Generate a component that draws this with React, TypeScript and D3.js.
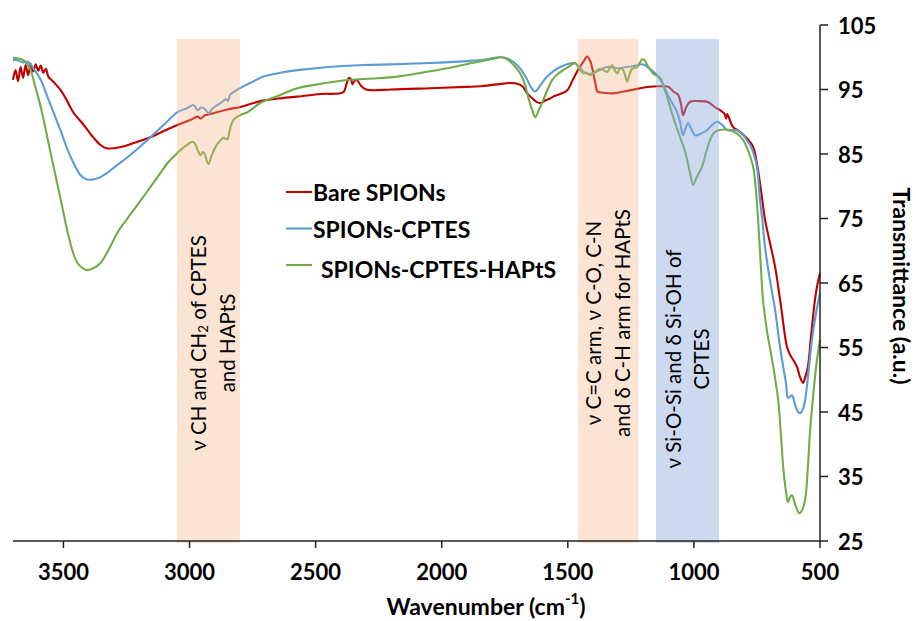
import React from "react";
import * as d3 from "d3";

// Bare SPIONs
const bareWn = [3700, 3690, 3680, 3670, 3660, 3650, 3640, 3630, 3620, 3610, 3600, 3590, 3580, 3570, 3560, 3540, 3511, 3485, 3460, 3430, 3404, 3380, 3353, 3330, 3300, 3260, 3222, 3155, 3100, 3048, 2990, 2968, 2955, 2940, 2929, 2900, 2850, 2798, 2719, 2650, 2572, 2480, 2390, 2378, 2368, 2360, 2354, 2348, 2338, 2320, 2300, 2200, 2045, 1900, 1847, 1780, 1728, 1700, 1680, 1661, 1640, 1620, 1605, 1590, 1570, 1558, 1530, 1502, 1480, 1463, 1440, 1423, 1410, 1399, 1390, 1383, 1360, 1320, 1250, 1185, 1122, 1100, 1082, 1063, 1050, 1043, 1030, 1015, 980, 948, 910, 896, 880, 872, 868, 845, 820, 791, 765, 750, 738, 728, 718, 700, 678, 655, 631, 620, 605, 591, 580, 567, 558, 548, 535, 520, 510, 500];
const bareT = [96.5, 98.0, 96.3, 98.5, 96.8, 98.8, 97.2, 99.0, 97.8, 98.9, 97.9, 98.7, 97.6, 98.2, 97.0, 96.2, 94.9, 93.2, 91.4, 90.0, 88.7, 87.5, 86.4, 85.9, 85.9, 86.2, 86.7, 87.6, 88.6, 89.5, 90.4, 90.8, 90.5, 91.0, 91.1, 91.4, 91.9, 92.3, 93.2, 93.6, 93.9, 94.3, 94.6, 95.8, 96.8, 96.6, 95.8, 96.2, 96.5, 95.6, 95.0, 95.0, 95.2, 95.4, 95.5, 95.8, 96.0, 95.9, 95.5, 94.4, 93.6, 93.0, 92.9, 93.3, 93.6, 93.9, 94.3, 94.9, 96.5, 97.8, 99.2, 100.1, 99.3, 97.5, 95.8, 94.7, 94.5, 94.4, 94.9, 95.4, 95.5, 95.4, 94.7, 94.2, 92.5, 91.0, 92.3, 93.1, 93.2, 93.1, 92.1, 91.8, 91.3, 90.5, 91.2, 89.2, 88.5, 87.5, 86.1, 83.5, 80.5, 77.6, 74.8, 71.5, 67.5, 61.5, 55.1, 54.0, 53.0, 52.0, 50.5, 49.5, 50.5, 52.0, 57.0, 62.4, 64.8, 66.5];

// SPIONs-CPTES
const cptesWn = [3700, 3680, 3660, 3642, 3620, 3590, 3565, 3539, 3510, 3483, 3455, 3432, 3410, 3392, 3360, 3325, 3290, 3246, 3200, 3155, 3100, 3048, 3010, 2984, 2968, 2955, 2944, 2935, 2925, 2910, 2889, 2870, 2855, 2848, 2838, 2800, 2760, 2707, 2640, 2572, 2450, 2310, 2200, 2045, 1900, 1835, 1768, 1740, 1716, 1690, 1661, 1645, 1629, 1610, 1582, 1555, 1530, 1478, 1455, 1439, 1420, 1399, 1370, 1344, 1300, 1265, 1230, 1213, 1195, 1185, 1165, 1146, 1125, 1106, 1085, 1067, 1055, 1043, 1033, 1023, 1010, 995, 970, 948, 925, 908, 890, 869, 850, 829, 810, 791, 770, 750, 738, 728, 718, 700, 678, 660, 646, 635, 627, 618, 611, 600, 590, 579, 568, 559, 545, 532, 515, 500];
const cptesT = [99.6, 99.5, 99.2, 99.3, 98.3, 96.5, 94.0, 91.4, 88.5, 85.6, 83.2, 81.7, 81.1, 81.0, 81.3, 82.1, 83.2, 84.5, 86.0, 87.6, 89.6, 91.5, 92.1, 92.6, 91.8, 92.2, 92.1, 91.8, 91.3, 92.0, 92.6, 93.1, 93.5, 93.2, 94.2, 95.2, 96.0, 97.0, 97.6, 98.0, 98.5, 98.8, 98.9, 99.1, 99.4, 99.6, 100.0, 99.8, 99.3, 98.3, 96.5, 95.3, 94.7, 95.6, 97.0, 97.9, 98.5, 99.1, 98.6, 97.8, 97.4, 97.5, 98.1, 98.5, 98.3, 98.5, 98.7, 98.9, 98.8, 98.5, 97.9, 97.2, 96.0, 94.4, 92.8, 91.5, 90.0, 87.9, 89.0, 89.8, 88.8, 87.9, 88.2, 88.7, 89.6, 90.0, 89.6, 88.7, 88.7, 88.7, 88.2, 87.2, 85.8, 83.0, 77.9, 74.5, 70.6, 65.8, 60.8, 55.5, 52.0, 49.5, 47.2, 47.4, 47.6, 46.3, 45.2, 44.8, 45.4, 46.9, 51.5, 56.2, 60.5, 63.5];

// SPIONs-CPTES-HAPtS
const haptsWn = [3700, 3680, 3660, 3645, 3630, 3610, 3590, 3565, 3539, 3510, 3483, 3460, 3444, 3420, 3404, 3380, 3353, 3320, 3286, 3250, 3222, 3190, 3155, 3120, 3087, 3060, 3036, 3010, 2988, 2975, 2968, 2956, 2948, 2940, 2932, 2925, 2912, 2897, 2880, 2865, 2850, 2840, 2826, 2800, 2770, 2719, 2650, 2572, 2460, 2362, 2270, 2176, 2080, 1978, 1880, 1780, 1768, 1745, 1728, 1710, 1689, 1670, 1657, 1640, 1629, 1615, 1597, 1580, 1562, 1540, 1518, 1495, 1471, 1455, 1439, 1425, 1411, 1390, 1372, 1358, 1344, 1334, 1324, 1314, 1304, 1294, 1284, 1275, 1265, 1255, 1245, 1225, 1205, 1195, 1185, 1162, 1134, 1120, 1106, 1082, 1055, 1040, 1027, 1015, 1003, 990, 968, 950, 936, 922, 908, 880, 857, 830, 805, 791, 765, 755, 746, 736, 726, 710, 690, 666, 655, 646, 636, 627, 619, 611, 600, 590, 583, 572, 559, 548, 540, 526, 512, 500];
const haptsT = [99.9, 99.8, 99.6, 99.0, 98.0, 95.2, 92.3, 87.8, 83.0, 77.8, 72.8, 69.5, 68.1, 67.2, 67.0, 67.3, 68.1, 70.2, 72.8, 74.8, 76.3, 78.0, 79.9, 81.8, 83.6, 84.7, 85.6, 86.4, 86.9, 86.4, 85.6, 84.8, 85.3, 85.0, 84.0, 83.4, 84.8, 86.1, 87.0, 87.5, 87.3, 88.8, 90.3, 91.0, 91.5, 92.9, 94.0, 95.2, 96.0, 96.5, 96.7, 97.0, 97.6, 98.3, 99.1, 99.9, 100.0, 99.8, 99.3, 98.6, 97.5, 95.8, 93.8, 91.7, 90.7, 91.8, 93.4, 95.0, 96.5, 97.4, 98.0, 98.6, 99.1, 98.3, 97.5, 97.6, 97.2, 97.8, 98.2, 98.0, 97.7, 98.3, 98.8, 98.0, 97.5, 98.2, 98.2, 97.5, 96.2, 97.4, 98.2, 98.5, 99.7, 99.5, 98.8, 97.5, 96.8, 95.5, 93.8, 90.7, 87.6, 86.0, 84.1, 82.0, 80.2, 81.3, 83.0, 85.5, 87.2, 88.2, 88.6, 88.8, 88.7, 88.2, 87.2, 86.1, 83.0, 79.8, 75.2, 68.5, 62.4, 57.5, 53.1, 46.9, 41.5, 36.5, 33.0, 31.0, 31.8, 32.1, 30.8, 29.8, 29.3, 29.7, 31.4, 36.5, 41.7, 48.0, 53.1, 56.2];

const seriesNames = ["Bare SPIONs", "SPIONs-CPTES", "SPIONs-CPTES-HAPtS"];
const seriesColors = ["#C00000", "#5B9BD5", "#70AD47"];

const xTicks = [3500, 3000, 2500, 2000, 1500, 1000, 500];
const yTicks = [25, 35, 45, 55, 65, 75, 85, 95, 105];

// shaded assignment bands (wavenumber from / to)
const bandFrom = [3050, 1460, 1150];
const bandTo = [2800, 1220, 900];
const bandColors = ["#F4B183", "#F4B183", "#8FAADC"];
const bandOpacity = [0.35, 0.35, 0.45];

export default function App() {
  const W = 916;
  const H = 621;
  const x = d3.scaleLinear().domain([3700, 500]).range([13, 820]);
  const y = d3.scaleLinear().domain([25, 105]).range([541, 25]);

  const line = d3
    .line<[number, number]>()
    .x((d) => x(d[0]))
    .y((d) => y(d[1]))
    .curve(d3.curveCatmullRom.alpha(0.5));

  const series = [
    d3.zip(bareWn, bareT) as [number, number][],
    d3.zip(cptesWn, cptesT) as [number, number][],
    d3.zip(haptsWn, haptsT) as [number, number][],
  ];

  const font = "Lato, 'Open Sans', sans-serif";
  const bandTop = 39;
  const bandBottom = 543;
  const labelFs = 20.5;

  // band label centres (between the two lines)
  const bandMid = bandFrom.map((f, i) => (x(f) + x(bandTo[i])) / 2);

  return (
    <svg
      width={W}
      height={H}
      style={{ position: "absolute", left: 0, top: 0, background: "#fff" }}
      fontFamily={font}
    >
      {/* curves */}
      {series.map((s, i) => (
        <path
          key={i}
          d={line(s) ?? ""}
          fill="none"
          stroke={seriesColors[i]}
          strokeWidth={2.1}
          strokeLinejoin="round"
        />
      ))}

      {/* bands, over the curves */}
      {bandFrom.map((f, i) => (
        <rect
          key={i}
          x={x(f)}
          y={bandTop}
          width={x(bandTo[i]) - x(f)}
          height={bandBottom - bandTop}
          fill={bandColors[i]}
          fillOpacity={bandOpacity[i]}
        />
      ))}

      {/* band labels */}
      <g fontSize={labelFs} fill="#000">
        <text
          transform={`translate(${bandMid[0] - 10},343) rotate(-90)`}
          textAnchor="middle"
          dominantBaseline="central"
        >
          ν CH and CH
          <tspan fontSize={labelFs * 0.65} dy={5}>2</tspan>
          <tspan dy={-5}> of CPTES</tspan>
        </text>
        <text
          transform={`translate(${bandMid[0] + 19},343) rotate(-90)`}
          textAnchor="middle"
          dominantBaseline="central"
        >
          and HAPtS
        </text>

        <text
          transform={`translate(${bandMid[1] - 15},323) rotate(-90)`}
          textAnchor="middle"
          dominantBaseline="central"
        >
          ν C=C arm, ν C-O, C-N
        </text>
        <text
          transform={`translate(${bandMid[1] + 14},323) rotate(-90)`}
          textAnchor="middle"
          dominantBaseline="central"
        >
          and δ C-H arm for HAPtS
        </text>

        <text
          transform={`translate(${bandMid[2] - 15},359) rotate(-90)`}
          textAnchor="middle"
          dominantBaseline="central"
        >
          ν Si-O-Si and δ Si-OH of
        </text>
        <text
          transform={`translate(${bandMid[2] + 13},359) rotate(-90)`}
          textAnchor="middle"
          dominantBaseline="central"
        >
          CPTES
        </text>
      </g>

      {/* axes */}
      <g stroke="#222" strokeWidth={1.5}>
        <line x1={13} x2={x(500)} y1={y(25)} y2={y(25)} />
        {xTicks.map((t) => (
          <line key={t} x1={x(t)} x2={x(t)} y1={y(25)} y2={y(25) + 7} />
        ))}
        <line x1={x(500)} x2={x(500)} y1={y(105)} y2={y(25)} />
        {yTicks.map((t) => (
          <line key={t} x1={x(500)} x2={x(500) + 8} y1={y(t)} y2={y(t)} />
        ))}
      </g>
      <g fontSize={22} fontWeight="bold" fill="#000">
        {xTicks.map((t) => (
          <text key={t} x={x(t)} y={y(25) + 30} textAnchor="middle" dominantBaseline="central">
            {t}
          </text>
        ))}
        {yTicks.map((t) => (
          <text key={t} x={x(500) + 18} y={y(t)} dominantBaseline="central">
            {t}
          </text>
        ))}
      </g>
      <g fontSize={23} fontWeight="bold" fill="#000">
        <text x={486} y={606} textAnchor="middle" dominantBaseline="central">
          Wavenumber (cm
          <tspan fontSize={15} dy={-8}>-1</tspan>
          <tspan dy={8}>)</tspan>
        </text>
        <text
          transform={`translate(902,286) rotate(90)`}
          textAnchor="middle"
          dominantBaseline="central"
        >
          Transmittance (a.u.)
        </text>
      </g>

      {/* legend */}
      <g fontSize={23} fontWeight="bold" fill="#000">
        {seriesNames.map((n, i) => (
          <g key={n} transform={`translate(286,${192 + i * 36.5})`}>
            <line x1={0} x2={26} y1={0} y2={0} stroke={seriesColors[i]} strokeWidth={2.1} />
            <text x={i === 2 ? 35 : 27} y={i === 2 ? 4 : 0} dominantBaseline="central">
              {n}
            </text>
          </g>
        ))}
      </g>
    </svg>
  );
}
